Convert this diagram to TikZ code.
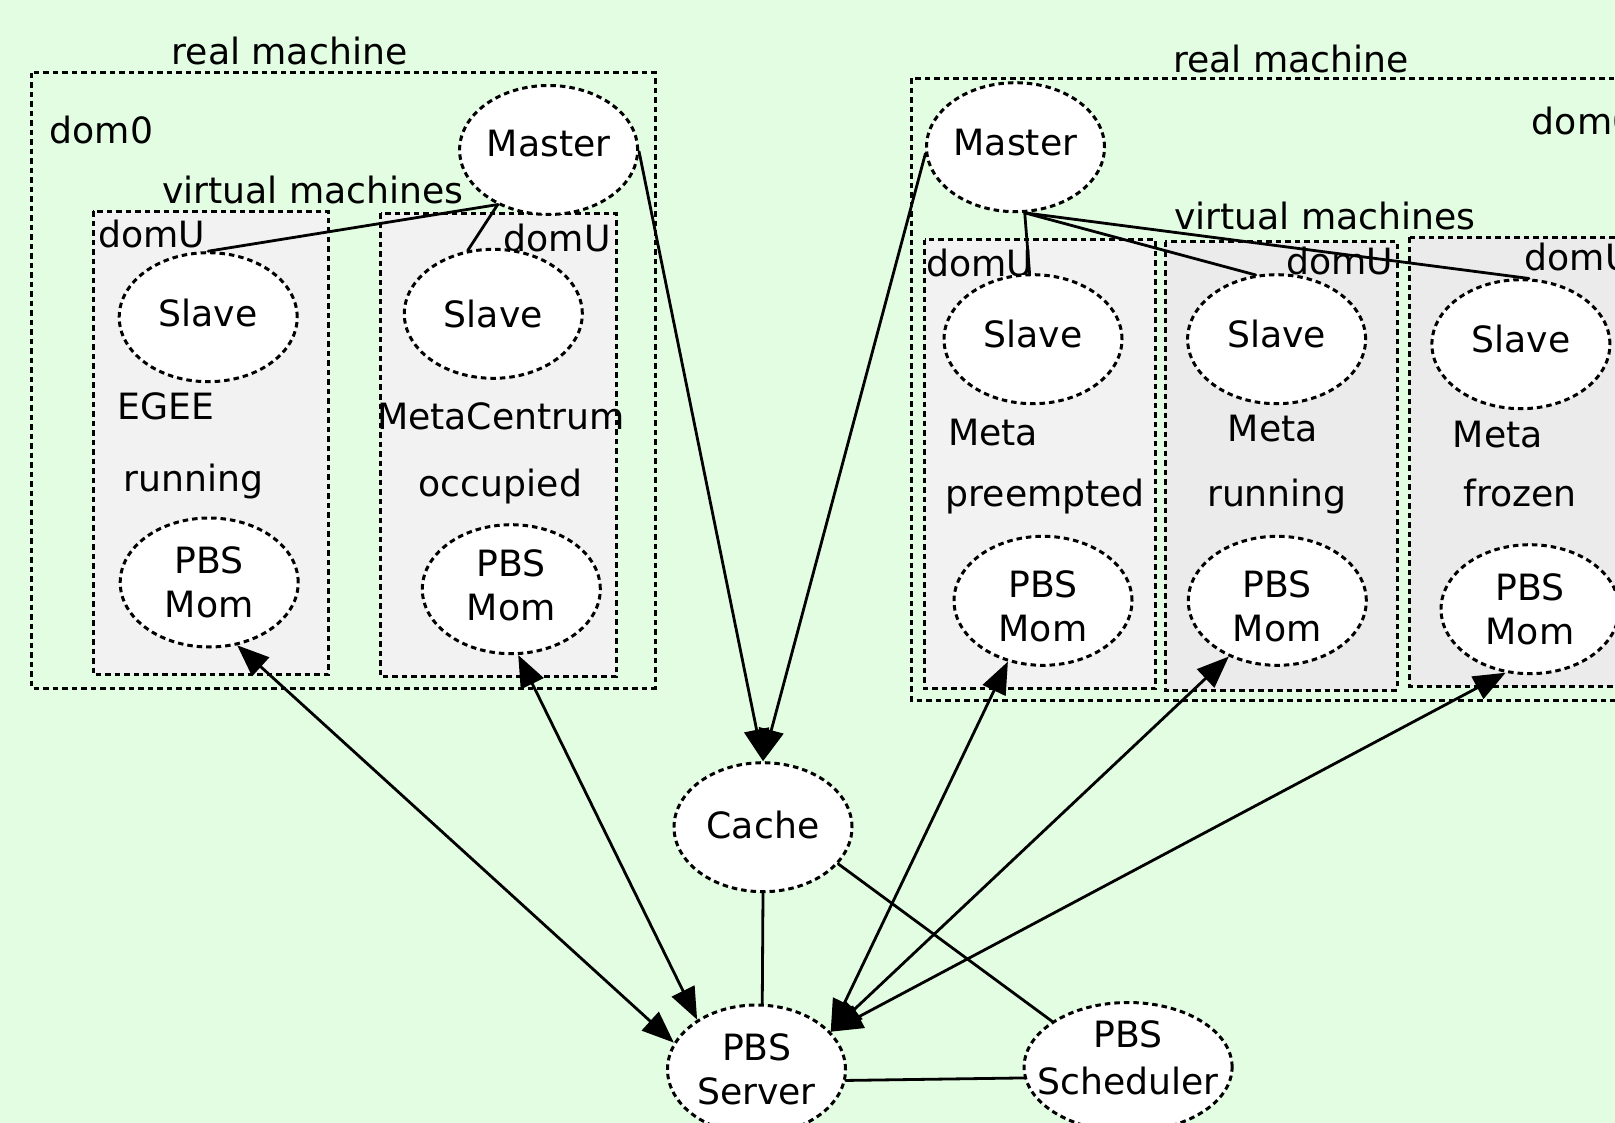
\documentclass[tikz,border=0pt]{standalone}
\usepackage{fontspec}
\setmainfont{DejaVu Sans}
\usetikzlibrary{arrows.meta,shapes.geometric}
\definecolor{bg}{RGB}{227,253,227}
\definecolor{vmlight}{RGB}{242,242,242}
\definecolor{vmdark}{RGB}{235,235,235}
\begin{document}
\begin{tikzpicture}[x=1pt,y=-1pt,
  every node/.style={font=\fontsize{36.2}{44}\selectfont, inner sep=0pt},
  >={Triangle[length=32pt,width=25pt]},
  proc/.style={ellipse, draw, dash pattern=on 5.5pt off 4pt, line width=3pt,
    fill=white, minimum width=178pt, minimum height=129pt, align=center},
  up/.style={text depth=#1},
  ptext/.style={align=center},
  lbl/.style={anchor=mid},
  clus/.style={draw, dash pattern=on 5.5pt off 4pt, line width=3pt},
  link/.style={line width=2.8pt, line cap=round}]

\useasboundingbox (0,0) rectangle (1615,1123);
\fill[bg] (0,0) rectangle (1615,1123);
\clip (0,0) rectangle (1615,1123);

% clusters: left host
\draw[clus] (31.5,72.7) rectangle (655,688);
\draw[clus, fill=vmlight] (93,211.5) rectangle (328.5,674.3);
\draw[clus, fill=vmlight] (380.5,213.5) rectangle (616,676.7);
% clusters: right host
\draw[clus] (911.9,78.3) rectangle (1700,700.5);
\draw[clus, fill=vmlight] (924.5,240) rectangle (1155.5,688.3);
\draw[clus, fill=vmdark] (1165,241.7) rectangle (1397,690);
\draw[clus, fill=vmdark] (1409.8,237.3) rectangle (1700,686);

% cluster and state labels, left host
\node[lbl] (rmL)  at (289.5,61.7) {real machine};
\node[lbl] (d0L)  at (101.5,140.5) {dom0};
\node[lbl] (vmL)  at (312.9,201) {virtual machines};
\node[lbl] (du1)  at (151.8,245) {domU};
\node[lbl] (du2)  at (557.2,248.8) {domU};
\node[lbl] (egee) at (165.7,417) {EGEE};
\node[lbl] (st1)  at (193.6,488.5) {running};
\node[lbl] (mc)   at (500.9,426.7) {MetaCentrum};
\node[lbl] (st2)  at (500.4,494) {occupied};

% cluster and state labels, right host
\node[lbl] (rmR)  at (1291,70) {real machine};
\node[anchor=mid west] (d0R) at (1531.7,131.5) {dom0};
\node[lbl] (vmR)  at (1324.9,227.2) {virtual machines};
\node[lbl] (dua)  at (979.6,274) {domU};
\node[lbl] (dub)  at (1339.6,271.7) {domU};
\node[anchor=mid west] (duc) at (1524.6,267.8) {domU};
\node[lbl] (mta)  at (993.2,443) {Meta};
\node[lbl] (sta)  at (1045.3,503.3) {preempted};
\node[lbl] (mtb)  at (1272.7,438.6) {Meta};
\node[lbl] (stb)  at (1277,503.3) {running};
\node[lbl] (mtc)  at (1497.7,444.8) {Meta};
\node[lbl] (stc)  at (1520,503.3) {frozen};

% processes
\node[proc, up=13pt] (m1) at (548.6,150) {Master};
\node[proc, up=9pt]  (s1) at (208.2,317.2) {Slave};
\node[proc]          (s2) at (493.3,313.8) {Slave};
\node[proc] (p1) at (209.2,582.5) {PBS\\Mom};
\node[proc] (p2) at (511.3,589.2) {};
\node[ptext] (p2t) at (511.3,585.7) {PBS\\Mom};

\node[proc, up=10pt] (m2) at (1015.5,147.2) {Master};
\node[proc, up=10pt] (sa) at (1033,339.2) {Slave};
\node[proc, up=10pt] (sb) at (1276.6,339.2) {Slave};
\node[proc, up=11pt] (sc) at (1520.9,344.2) {Slave};
\node[proc] (pa) at (1043,600.8) {};
\node[ptext] (pat) at (1043,606) {PBS\\Mom};
\node[proc] (pb) at (1277.3,600.8) {};
\node[ptext] (pbt) at (1277.3,606) {PBS\\Mom};
\node[proc] (pc) at (1530,609.2) {PBS\\Mom};

\node[proc, up=4pt] (cache)  at (763,827.2) {Cache};
\node[proc] (server) at (756.5,1069.5) {PBS\\Server};
\node[proc, minimum width=208pt] (sched) at (1128.1,1067) {};
\node[ptext] (schedtxt) at (1128.1,1058) {PBS\\[3pt]Scheduler};

% master-slave links
\draw[link] (m1.227) -- (s1.north);
\draw[link] (m1.227) -- (s2.112);
\draw[link] (m2.-82) -- (sa.93);
\draw[link] (m2.-82) -- (sb.108);
\draw[link] (m2.-82) -- (sc.83);

% masters report to the cache
\draw[link,->] (m1.-1) -- (cache.north);
\draw[link,->] (m2.184) -- (cache.north);

% PBS server and moms
\draw[link,<->] (p1.-66) -- (server.162);
\draw[link,<->] (p2.-84) -- (server.140);
\draw[link,<->] (pa.240) -- (server.27);
\draw[link,<->] (pb.229) -- (server.27);
\draw[link,<->] (pc.249) -- (server.27);

% server, cache and scheduler
\draw[link] (cache.south) -- (server.85);
\draw[link] (cache.-26) -- (sched.149);
\draw[link] (server.-7) -- (sched.186);
\end{tikzpicture}
\end{document}
